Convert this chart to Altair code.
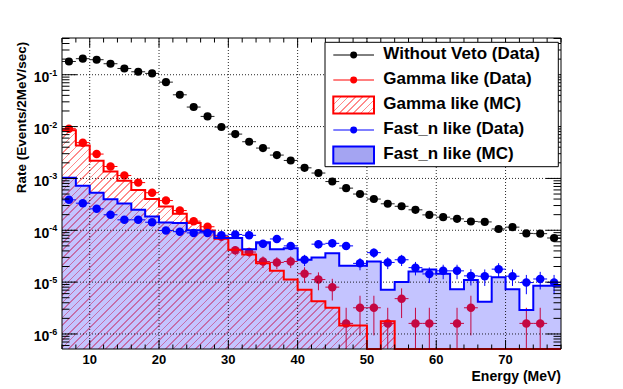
import math
import altair as alt
import pandas as pd

# ---------------- data ----------------
E = [7, 9, 11, 13, 15, 17, 19, 21, 23, 25, 27, 29, 31, 33, 35, 37, 39, 41,
     43, 45, 47, 49, 51, 53, 55, 57, 59, 61, 63, 65, 67, 69, 71, 73, 75, 77]

without_veto = [0.18, 0.204, 0.195, 0.163, 0.132, 0.114, 0.106,
                0.072, 0.041, 0.0238, 0.0157, 0.0098,
                0.00716, 0.0051, 0.00385, 0.00282, 0.00222,
                0.0016, 0.00127, 8.7e-4, 6.5e-4, 5.0e-4,
                4.0e-4, 3.24e-4, 2.9e-4, 2.48e-4, 1.98e-4,
                1.79e-4, 1.66e-4, 1.48e-4, 1.45e-4, 1.06e-4,
                1.15e-4, 8.7e-5, 8.6e-5, 7.1e-5]

gamma_data = [9.1e-3, 4.9e-3, 2.95e-3, 1.7e-3, 1.14e-3, 8.3e-4, 5.3e-4,
              3.74e-4, 2.4e-4, 1.5e-4, 1.17e-4, 7.5e-5,
              4.1e-5, 3.8e-5, 2.5e-5, 2.4e-5, 2.5e-5,
              1.45e-5, 1.12e-5, 8.0e-6, 1.6e-6, 3.2e-6,
              3.2e-6, 1.6e-6, 4.8e-6, 1.6e-6, 1.6e-6,
              None, 1.6e-6, 3.2e-6, None, None,
              None, 1.6e-6, 1.6e-6, None]

fastn_data = [3.86e-4, 3.33e-4, 2.59e-4, 1.99e-4, 1.59e-4, 1.59e-4, 1.43e-4,
              9.9e-5, 9.4e-5, 8.9e-5, 8.9e-5, 8.0e-5,
              8.3e-5, 8.0e-5, 5.5e-5, 6.8e-5, 5.0e-5,
              2.7e-5, 5.4e-5, 5.6e-5, 5.0e-5, 2.3e-5,
              3.7e-5, 2.4e-5, 2.7e-5, 1.9e-5, 1.44e-5,
              1.65e-5, 1.65e-5, 1.32e-5, 1.3e-5, 1.78e-5,
              1.3e-5, 9.8e-6, 1.15e-5, 9.8e-6]

gamma_mc = [8.5e-3, 4.3e-3, 2.2e-3, 1.36e-3, 9.0e-4, 6.0e-4, 4.0e-4,
            2.87e-4, 2.08e-4, 1.38e-4, 9.9e-5, 6.9e-5,
            4.2e-5, 3.4e-5, 2.3e-5, 1.65e-5, 1.12e-5,
            7.1e-6, 4.3e-6, 3.2e-6, 1.45e-6, 1.45e-6,
            0, 1.75e-6, 0, 0, 0,
            0, 0, 0, 0, 0,
            0, 0, 0, 0]

fastn_mc = [1.03e-3, 7.2e-4, 5.3e-4, 3.95e-4, 3.3e-4, 2.48e-4, 1.84e-4,
            1.42e-4, 1.38e-4, 1.0e-4, 9.5e-5, 7.1e-5,
            7.1e-5, 4.3e-5, 5.9e-5, 4.3e-5, 4.5e-5,
            2.7e-5, 3.0e-5, 3.6e-5, 2.06e-5, 2.06e-5,
            2.5e-5, 7.1e-6, 1.0e-5, 1.6e-5, 1.75e-5,
            1.45e-5, 7.3e-6, 1.1e-5, 4.2e-6, 1.24e-5,
            7.3e-6, 2.9e-6, 8.5e-6, 8.5e-6]

UNIT = 1.6e-6          # rate of a single event in one bin (Poisson error unit)
HALF_BIN = 1           # MeV

x_ticks = [10, 20, 30, 40, 50, 60, 70]
y_exponents = [-6, -5, -4, -3, -2, -1]

legend_labels = ["Without Veto (Data)", "Gamma like (Data)", "Gamma like (MC)",
                 "Fast_n like (Data)", "Fast_n like (MC)"]
legend_kinds = ["data", "data", "mc_red", "data", "mc_blue"]
legend_colors = ["#000000", "#ff0000", "#ff0000", "#0000ff", "#0000ff"]

x_title = "Energy (MeV)"
y_title = "Rate (Events/2MeV/sec)"

# ---------------- layout / style ----------------
W, H = 499, 311
FONT = "Liberation Sans"
FLOOR = 1e-9
YMIN, YMAX = 5.13e-7, 0.511

xs = alt.Scale(domain=[6, 78], nice=False, zero=False)
ys = alt.Scale(type="log", domain=[YMIN, YMAX], nice=False, clamp=True)


def X(f):
    return alt.X(f, type="quantitative", scale=xs, axis=None)


def Y(f):
    return alt.Y(f, type="quantitative", scale=ys, axis=None)


def hatch(box_w, box_h, period=5.3, line=1.2, color="#ff8c8c"):
    """Diagonal '/' hatch made of a striped linear gradient on a box."""
    r = box_h / box_w
    a = (1 + r) / (1 + r * r)
    b = a * r
    n = max(1, round((box_w + box_h) / math.sqrt(2) / period))
    w = line / period
    stops = []
    for k in range(n):
        o0, o1, o2 = k / n, (k + w) / n, (k + 1) / n
        stops += [{"color": color, "offset": o0}, {"color": color, "offset": o1},
                  {"color": "#ffffff", "offset": o1}, {"color": "#ffffff", "offset": o2}]
    return {"gradient": "linear", "x1": 0, "y1": 0, "x2": a, "y2": b, "stops": stops}


def points_df(vals, with_err=True):
    rows = []
    for e, v in zip(E, vals):
        if v is None:
            continue
        err = math.sqrt(v * UNIT) if with_err else 0.0
        rows.append(dict(E=e, v=v, xl=e - HALF_BIN, xh=e + HALF_BIN,
                         lo=max(v - err, FLOOR), hi=v + err))
    return pd.DataFrame(rows)


def steps_df(vals):
    xe = [e - HALF_BIN for e in E] + [E[-1] + HALF_BIN]
    ye = [max(v, FLOOR) for v in vals] + [max(vals[-1], FLOOR)]
    return pd.DataFrame({"x": xe, "v": ye})


black_pts = points_df(without_veto, with_err=False)
red_pts = points_df(gamma_data)
blue_pts = points_df(fastn_data)
red_steps = steps_df(gamma_mc)
blue_steps = steps_df(fastn_mc)

# pixel size of the red MC area bounding box (for the hatch angle)
red_top_px = H * (math.log10(YMAX) - math.log10(max(gamma_mc))) / (math.log10(YMAX) - math.log10(YMIN))

layers = []

# red MC fill (hatched)
layers.append(alt.Chart(red_steps).mark_area(
    interpolate="step-after", fill=hatch(W, H - red_top_px)).encode(
    x=X("x:Q"), y=Y("v:Q"), y2=alt.value(H)))

# red data (drawn below blue MC fill)
layers.append(alt.Chart(red_pts).mark_rule(color="#ff0000", strokeWidth=1).encode(
    x=X("E:Q"), y=Y("lo:Q"), y2=alt.Y2("hi:Q")))
layers.append(alt.Chart(red_pts).mark_rule(color="#ff0000", strokeWidth=1).encode(
    x=X("xl:Q"), x2=alt.X2("xh:Q"), y=Y("v:Q")))
layers.append(alt.Chart(red_pts).mark_circle(color="#ff0000", size=72, opacity=1).encode(
    x=X("E:Q"), y=Y("v:Q")))

# blue MC fill
layers.append(alt.Chart(blue_steps).mark_area(
    interpolate="step-after", fill="#1a1aff", fillOpacity=0.26).encode(
    x=X("x:Q"), y=Y("v:Q"), y2=alt.value(H)))

# grid
layers.append(alt.Chart(pd.DataFrame({"v": x_ticks})).mark_rule(
    color="black", strokeWidth=1, strokeDash=[1, 2], opacity=0.85).encode(
    x=X("v:Q"), y=alt.value(0), y2=alt.value(H)))
layers.append(alt.Chart(pd.DataFrame({"v": [10.0 ** e for e in y_exponents]})).mark_rule(
    color="black", strokeWidth=1, strokeDash=[1, 2], opacity=0.85).encode(
    y=Y("v:Q"), x=alt.value(0), x2=alt.value(W)))

# MC outlines
layers.append(alt.Chart(red_steps).mark_line(
    interpolate="step-after", color="#ff0000", strokeWidth=2).encode(
    x=X("x:Q"), y=Y("v:Q")))
layers.append(alt.Chart(blue_steps).mark_line(
    interpolate="step-after", color="#0000ff", strokeWidth=2).encode(
    x=X("x:Q"), y=Y("v:Q")))

# blue data
layers.append(alt.Chart(blue_pts).mark_rule(color="#0000ff", strokeWidth=1).encode(
    x=X("E:Q"), y=Y("lo:Q"), y2=alt.Y2("hi:Q")))
layers.append(alt.Chart(blue_pts).mark_rule(color="#0000ff", strokeWidth=1).encode(
    x=X("xl:Q"), x2=alt.X2("xh:Q"), y=Y("v:Q")))
layers.append(alt.Chart(blue_pts).mark_circle(color="#0000ff", size=72, opacity=1).encode(
    x=X("E:Q"), y=Y("v:Q")))

# black data
layers.append(alt.Chart(black_pts).mark_rule(color="#222222", strokeWidth=1).encode(
    x=X("xl:Q"), x2=alt.X2("xh:Q"), y=Y("v:Q")))
layers.append(alt.Chart(black_pts).mark_circle(color="#000000", size=66, opacity=1).encode(
    x=X("E:Q"), y=Y("v:Q")))

# inner ticks (ROOT style)
y_major = [10.0 ** e for e in y_exponents]
y_minor = [k * 10.0 ** e for e in range(-7, 0) for k in range(2, 10)
           if YMIN <= k * 10.0 ** e <= YMAX]
x_minor = [v for v in range(6, 79, 2) if v not in x_ticks]
for vals, ln in ((y_major, 15), (y_minor, 7.5)):
    df = pd.DataFrame({"v": vals})
    layers.append(alt.Chart(df).mark_rule(color="black", strokeWidth=1).encode(
        y=Y("v:Q"), x=alt.value(0), x2=alt.value(ln)))
    layers.append(alt.Chart(df).mark_rule(color="black", strokeWidth=1).encode(
        y=Y("v:Q"), x=alt.value(W - ln), x2=alt.value(W)))
for vals, ln in ((x_ticks, 9), (x_minor, 4.5)):
    df = pd.DataFrame({"v": vals})
    layers.append(alt.Chart(df).mark_rule(color="black", strokeWidth=1).encode(
        x=X("v:Q"), y=alt.value(H - ln), y2=alt.value(H)))
    layers.append(alt.Chart(df).mark_rule(color="black", strokeWidth=1).encode(
        x=X("v:Q"), y=alt.value(0), y2=alt.value(ln)))

# y tick labels 10^n
ylab = pd.DataFrame({"v": [10.0 ** e for e in y_exponents],
                     "main": ["10"] * len(y_exponents),
                     "sup": [str(e) for e in y_exponents]})
layers.append(alt.Chart(ylab).mark_text(
    align="right", baseline="alphabetic", font=FONT, fontSize=14,
    fontWeight="bold", color="black", dy=7.3).encode(
    x=alt.value(-12.7), y=Y("v:Q"), text="main:N"))
layers.append(alt.Chart(ylab).mark_text(
    align="left", baseline="alphabetic", font=FONT, fontSize=9,
    fontWeight="bold", color="black", dy=1).encode(
    x=alt.value(-12.7), y=Y("v:Q"), text="sup:N"))

# x tick labels
xlab = pd.DataFrame({"v": x_ticks, "t": [str(v) for v in x_ticks]})
layers.append(alt.Chart(xlab).mark_text(
    align="center", baseline="alphabetic", font=FONT, fontSize=13,
    fontWeight="bold", color="black").encode(
    x=X("v:Q"), y=alt.value(H + 15), text="t:N"))

# axis titles
layers.append(alt.Chart(pd.DataFrame({"t": [x_title]})).mark_text(
    align="right", baseline="alphabetic", font=FONT, fontSize=14,
    fontWeight="bold", color="black").encode(
    x=alt.value(W), y=alt.value(H + 31.5), text="t:N"))
layers.append(alt.Chart(pd.DataFrame({"t": [y_title]})).mark_text(
    align="right", baseline="alphabetic", font=FONT, fontSize=13.5,
    fontWeight="bold", color="black", angle=270).encode(
    x=alt.value(-36.5), y=alt.value(3.7), text="t:N"))

# frame
layers.append(alt.Chart(pd.DataFrame({"a": [0]})).mark_rect(
    filled=False, stroke="black", strokeWidth=1).encode(
    x=alt.value(0), x2=alt.value(W), y=alt.value(0), y2=alt.value(H)))

# legend
leg = pd.DataFrame({"label": legend_labels, "kind": legend_kinds,
                    "color": legend_colors,
                    "i": list(range(len(legend_labels)))})
leg["py"] = 17 + 25 * leg["i"]
leg["py0"] = leg["py"] - 8.5
leg["py1"] = leg["py"] + 8.5

LX0, LX1 = 271.3, 312
layers.append(alt.Chart(pd.DataFrame({"a": [0]})).mark_rect(
    fill="white", stroke="black", strokeWidth=1).encode(
    x=alt.value(263), x2=alt.value(496.3), y=alt.value(4.3), y2=alt.value(128.7)))
LY = lambda f: alt.Y(f, type="quantitative", scale=None, axis=None)
layers.append(alt.Chart(leg).transform_filter("datum.kind == 'data'").mark_rule(
    strokeWidth=1).encode(
    x=alt.value(LX0), x2=alt.value(LX1), y=LY("py"),
    color=alt.Color("color:N", scale=None, legend=None)))
layers.append(alt.Chart(leg).transform_filter("datum.kind == 'data'").mark_circle(
    size=48, opacity=1).encode(
    x=alt.value((LX0 + LX1) / 2), y=LY("py"),
    color=alt.Color("color:N", scale=None, legend=None)))
layers.append(alt.Chart(leg).transform_filter("datum.kind == 'mc_red'").mark_rect(
    strokeWidth=2, stroke="#ff0000", fill=hatch(LX1 - LX0, 17)).encode(
    x=alt.value(LX0), x2=alt.value(LX1), y=LY("py0"), y2=alt.Y2("py1:Q")))
layers.append(alt.Chart(leg).transform_filter("datum.kind == 'mc_blue'").mark_rect(
    strokeWidth=2, stroke="#0000ff", fill="#a4a4f2").encode(
    x=alt.value(LX0), x2=alt.value(LX1), y=LY("py0"), y2=alt.Y2("py1:Q")))
layers.append(alt.Chart(leg).mark_text(
    align="left", baseline="middle", font=FONT, fontSize=17,
    fontWeight="bold", color="black", dy=-1).encode(
    x=alt.value(321.3), y=LY("py"), text="label:N"))

chart = alt.layer(*layers).properties(
    width=W, height=H,
    autosize=alt.AutoSizeParams(type="none"),
    padding={"left": 54, "top": 30, "right": 54, "bottom": 40},
    background="white",
).configure_view(stroke=None)

chart.save("out.html", embed_options={"renderer": "svg", "actions": False})
